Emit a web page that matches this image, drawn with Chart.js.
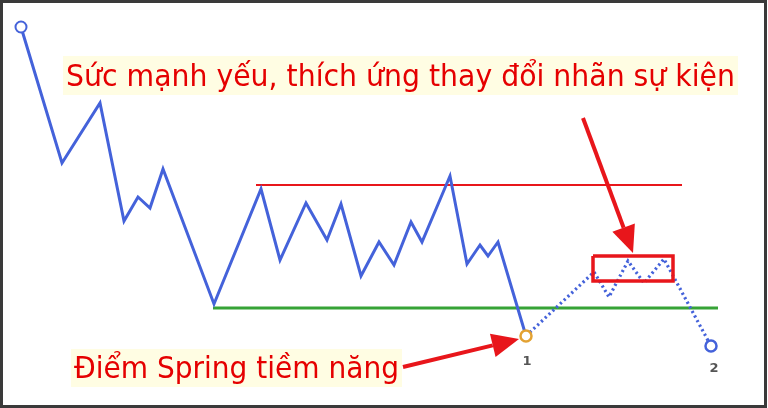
<!DOCTYPE html>
<html>
<head>
<meta charset="utf-8">
<script src="https://cdn.jsdelivr.net/npm/chart.js@4/dist/chart.umd.min.js"></script>
<style>
  html, body { margin: 0; padding: 0; background: #fff; }
  #wrap { width: 768px; height: 408px; position: relative; }
</style>
</head>
<body>
<div id="wrap"><canvas id="chart"></canvas></div>
<script>
// price path up to the spring (solid)
const time_main = [21, 62, 100, 124, 138, 150, 163, 214, 261, 280, 306, 327, 341, 361, 379, 394, 411, 422, 450, 467, 480, 488, 498, 526];
const price_main = [381, 245, 305, 187, 211, 200, 239, 104, 219, 148, 205, 168, 204, 132, 166, 143, 186, 166, 232, 144, 163, 152, 166, 72];

// projected path after the spring (dotted)
const time_proj = [526, 594, 609, 628, 644, 664, 711];
const price_proj = [72, 136, 111, 147, 125, 149, 62];

// trading range
const resistance_price = 223;
const resistance_time = [256, 682];
const support_price = 100;
const support_time = [213, 718];

// box around the weak rally
const box_time = [593, 673];
const box_price = [127, 152];

// point labels
const point_labels = ["1", "2"];

// annotations
const note_top = "Sức mạnh yếu, thích ứng thay đổi nhãn sự kiện";
const note_bottom = "Điểm Spring tiềm năng";

const BLUE = "#4462da";
const RED = "#e8161b";
const GREEN = "#37a337";
const ORANGE = "#e3a233";

const toPoints = (xs, ys) => xs.map((x, i) => ({ x: x, y: ys[i] }));

const boxPoints = [
  { x: box_time[0], y: box_price[1] },
  { x: box_time[1], y: box_price[1] },
  { x: box_time[1], y: box_price[0] },
  { x: box_time[0], y: box_price[0] },
  { x: box_time[0], y: box_price[1] },
];

// arrows: tail -> head, in chart units
const arrows = [
  { from: { x: 583, y: 290 }, to: { x: 633, y: 155 } },
  { from: { x: 403, y: 41 }, to: { x: 519, y: 69 } },
];

const annotations = {
  id: "annotations",
  afterDatasetsDraw(chart) {
    const c = chart.ctx;
    const xs = chart.scales.x;
    const ys = chart.scales.y;

    // arrows
    arrows.forEach((a) => {
      const x1 = xs.getPixelForValue(a.from.x), y1 = ys.getPixelForValue(a.from.y);
      const x2 = xs.getPixelForValue(a.to.x), y2 = ys.getPixelForValue(a.to.y);
      const ang = Math.atan2(y2 - y1, x2 - x1);
      const headLen = 27, headW = 12;
      const bx = x2 - headLen * Math.cos(ang), by = y2 - headLen * Math.sin(ang);
      c.save();
      c.strokeStyle = RED;
      c.fillStyle = RED;
      c.lineWidth = 4;
      c.beginPath();
      c.moveTo(x1, y1);
      c.lineTo(bx, by);
      c.stroke();
      c.beginPath();
      c.moveTo(x2, y2);
      c.lineTo(bx + headW * Math.sin(ang), by - headW * Math.cos(ang));
      c.lineTo(bx - headW * Math.sin(ang), by + headW * Math.cos(ang));
      c.closePath();
      c.fill();
      c.restore();
    });

    // text notes with cream background, squeezed to the narrow face of the original
    const drawNote = (text, left, baseline, width, boxTop, boxBottom) => {
      c.save();
      c.fillStyle = "#fffde3";
      c.fillRect(left - 3, boxTop, width + 6, boxBottom - boxTop);
      c.font = "30px 'DejaVu Sans'";
      const sx = width / c.measureText(text).width;
      c.translate(left, baseline);
      c.scale(sx, 1);
      c.fillStyle = "#e50000";
      c.textBaseline = "alphabetic";
      c.fillText(text, 0, 0);
      c.restore();
    };
    drawNote(note_top, 66, 86, 669, 56, 95);
    drawNote(note_bottom, 74, 378, 325, 349, 387);

    // point numbers
    c.save();
    c.fillStyle = "#555";
    c.font = "bold 13px 'DejaVu Sans'";
    c.textAlign = "center";
    c.textBaseline = "middle";
    const p1 = { x: time_proj[0], y: price_proj[0] };
    const p2 = { x: time_proj[time_proj.length - 1], y: price_proj[price_proj.length - 1] };
    c.fillText(point_labels[0], xs.getPixelForValue(p1.x) + 1, ys.getPixelForValue(p1.y) + 26);
    c.fillText(point_labels[1], xs.getPixelForValue(p2.x) + 3, ys.getPixelForValue(p2.y) + 23);
    c.restore();
  },
  afterDraw(chart) {
    const c = chart.ctx;
    c.save();
    c.strokeStyle = "#3a3a3a";
    c.lineWidth = 3;
    c.strokeRect(1.5, 1.5, 764, 405);
    c.restore();
  },
};

new Chart(document.getElementById("chart"), {
  type: "line",
  data: {
    datasets: [
      {
        label: "main",
        data: toPoints(time_main, price_main),
        borderColor: BLUE,
        borderWidth: 3,
        tension: 0,
        pointRadius: (ctx) => (ctx.dataIndex === 0 ? 5.5 : 0),
        pointBorderColor: BLUE,
        pointBackgroundColor: "#fff",
        pointBorderWidth: 2,
        order: 2,
      },
      {
        label: "projection",
        data: toPoints(time_proj, price_proj),
        borderColor: BLUE,
        borderWidth: 3.2,
        borderDash: [2.2, 3],
        tension: 0,
        pointRadius: (ctx) => (ctx.dataIndex === 0 || ctx.dataIndex === time_proj.length - 1 ? 5.5 : 0),
        pointBorderColor: (ctx) => (ctx.dataIndex === 0 ? ORANGE : BLUE),
        pointBackgroundColor: "#fff",
        pointBorderWidth: 2.5,
        order: 1,
      },
      {
        label: "resistance",
        data: resistance_time.map((t) => ({ x: t, y: resistance_price })),
        borderColor: RED,
        borderWidth: 2,
        pointRadius: 0,
        order: 4,
      },
      {
        label: "support",
        data: support_time.map((t) => ({ x: t, y: support_price })),
        borderColor: GREEN,
        borderWidth: 3,
        pointRadius: 0,
        order: 4,
      },
      {
        label: "box",
        data: boxPoints,
        borderColor: RED,
        borderWidth: 3.5,
        borderJoinStyle: "miter",
        pointRadius: 0,
        order: 0,
      },
    ],
  },
  options: {
    responsive: true,
    maintainAspectRatio: false,
    animation: false,
    layout: { padding: 0, autoPadding: false },
    plugins: { legend: { display: false }, tooltip: { enabled: false } },
    scales: {
      x: { type: "linear", min: 0, max: 768, display: false },
      y: { type: "linear", min: 0, max: 408, display: false },
    },
    elements: { line: { fill: false } },
  },
  plugins: [annotations],
});
</script>
</body>
</html>
